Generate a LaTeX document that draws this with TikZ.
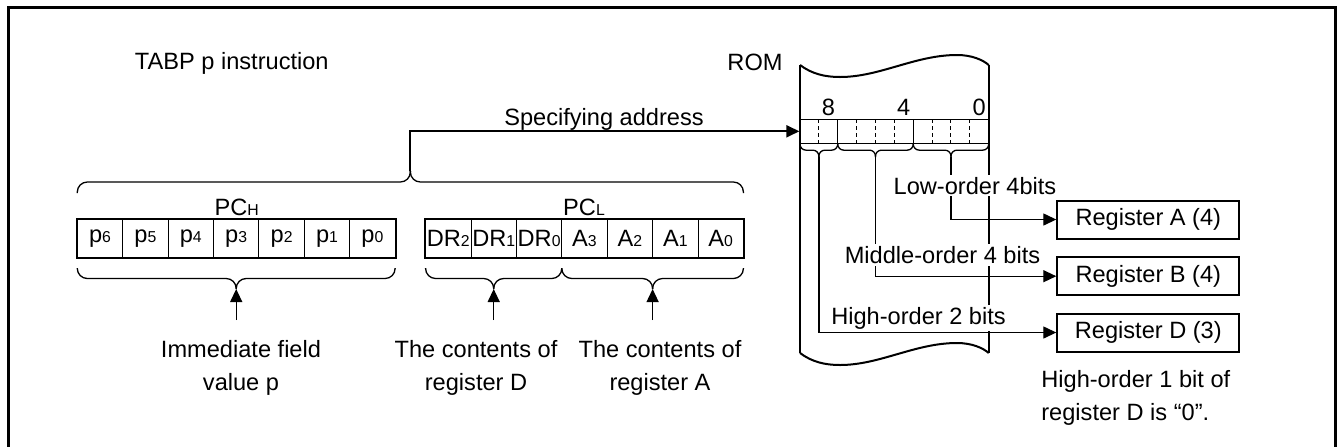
\documentclass[tikz,border=0pt]{standalone}
\usepackage{fontspec}
\setmainfont{Liberation Sans}
\usetikzlibrary{arrows.meta}
\newcommand{\sm}[1]{{\fontsize{7.9}{9}\selectfont #1}}
\newcommand{\curly}[6][5pt]{%
  \draw[rounded corners=#1] (#2,#4) |- ({(#2+#3)/2},{(#4+#5)/2}) -- ({(#2+#3)/2},#5);
  \draw[rounded corners=#1] (#3,#4) |- ({(#2+#3)/2},{(#4+#5)/2}) -- ({(#2+#3)/2},#5);
  \coordinate (#6) at ({(#2+#3)/2},#5);}

\begin{document}
\begin{tikzpicture}[x=.5pt,y=-.5pt,line width=.65pt,
    every node/.style={inner sep=0pt,font=\fontsize{11.8}{16.5}\selectfont},
    cell/.style={draw,line width=.5pt,minimum width=22.7pt,minimum height=19.15pt},
    reg/.style={draw,line width=1pt,minimum width=91pt,minimum height=19pt},
    lbl/.style={fill=white,inner sep=1pt,anchor=base},
    note/.style={anchor=north,align=center},
    arr/.style={-{Triangle[length=6.5pt,width=6pt]}}]
    \useasboundingbox (0,0) rectangle (1337,446);
    \clip (0,0) rectangle (1337,446);
    \draw[line width=1.5pt] (8,7.5) rectangle (1335,480);

    \node[anchor=base west] (title) at (134.3,69) {TABP p instruction};

    \foreach \t [count=\i] in {6,5,4,3,2,1,0}
      \node[cell] (p\t) at ({77.3+45.4*(\i-.5)},238.2) {p\sm{\t}};
    \foreach \t/\n [count=\i] in {DR/2,DR/1,DR/0,A/3,A/2,A/1,A/0}
      \node[cell] (\t\n) at ({425.6+45.4*(\i-.5)},238.2) {\t\sm{\n}};
    \draw[line width=1pt] (p6.north west) rectangle (p0.south east);
    \draw[line width=1pt] (DR2.north west) rectangle (A0.south east);
    \node[anchor=base] (pch) at (236.7,215) {PC\sm{H}};
    \node[anchor=base] (pcl) at (584,215) {PC\sm{L}};

    \curly{77.3}{743.4}{193}{171}{pc}
    \curly{77.3}{395.1}{268}{289}{ptip}
    \curly{425.6}{561.8}{268}{289}{drtip}
    \curly{561.8}{743.4}{268}{289}{atip}
    \foreach \t in {ptip,drtip,atip}
      \draw[arr] (\t |- 0,320) -- (\t);

    \node[note] (immlbl) at (241,339.8) {Immediate field\\value p};
    \node[note] (drlbl) at (476,339.8) {The contents of\\register D};
    \node[note] (albl) at (660,339.8) {The contents of\\register A};

    \node[anchor=base] (rom) at (755,70) {ROM};
    \foreach \dy in {0,288}
      \draw[line width=1pt] (800,{65+\dy}) .. controls (812,{74+\dy}) and (825,{77+\dy}) .. (840,{77+\dy})
        .. controls (880,{77+\dy}) and (915,{55+\dy}) .. (957,{55+\dy})
        .. controls (972,{55+\dy}) and (983,{60+\dy}) .. (988.7,{65+\dy});
    \draw[line width=1pt] (800,65) -- (800,353) (988.7,65) -- (988.7,353);
    \node[draw,minimum width=94.35pt,minimum height=12pt] (romreg) at (894.35,131.3) {};
    \foreach \k in {1,3,4,5,7,8,9}
      \draw[line width=.5pt,dash pattern=on 2pt off 1.5pt] ({800+18.87*\k},119.3) -- ++(0,24);
    \foreach \k in {2,6}
      \draw ({800+18.87*\k},119.3) -- ++(0,24);
    \foreach \b in {8,4,0}
      \node[anchor=base] (bit\b) at ({800+18.87*(9.5-\b)},115) {\b};

    \node[anchor=base] (spec) at (604,125) {Specifying address};
    \draw[arr,line width=1pt] (pc) |- (romreg.west);

    \curly[3pt]{800}{837.74}{143.3}{157}{hi}
    \curly[3pt]{837.74}{913.22}{143.3}{157}{mid}
    \curly[3pt]{913.22}{988.7}{143.3}{157}{lo}

    \node[reg] (rega) at (1148.3,219.5) {Register A (4)};
    \node[reg] (regb) at (1148.3,276.2) {Register B (4)};
    \node[reg] (regd) at (1148.3,332.5) {Register D (3)};
    \draw[arr] (lo) |- (rega);
    \draw[arr] (mid) |- (regb);
    \draw[arr] (hi) |- (regd);

    \node[lbl] (low) at (975,194) {Low-order 4bits};
    \node[lbl] (middle) at (942.5,263.3) {Middle-order 4 bits};
    \node[lbl] (high) at (918.5,324) {High-order 2 bits};

    \node[anchor=north west,align=left] (hint) at (1040.7,369.8) {High-order 1 bit of\\register D is “0”.};
  \end{tikzpicture}
\end{document}
